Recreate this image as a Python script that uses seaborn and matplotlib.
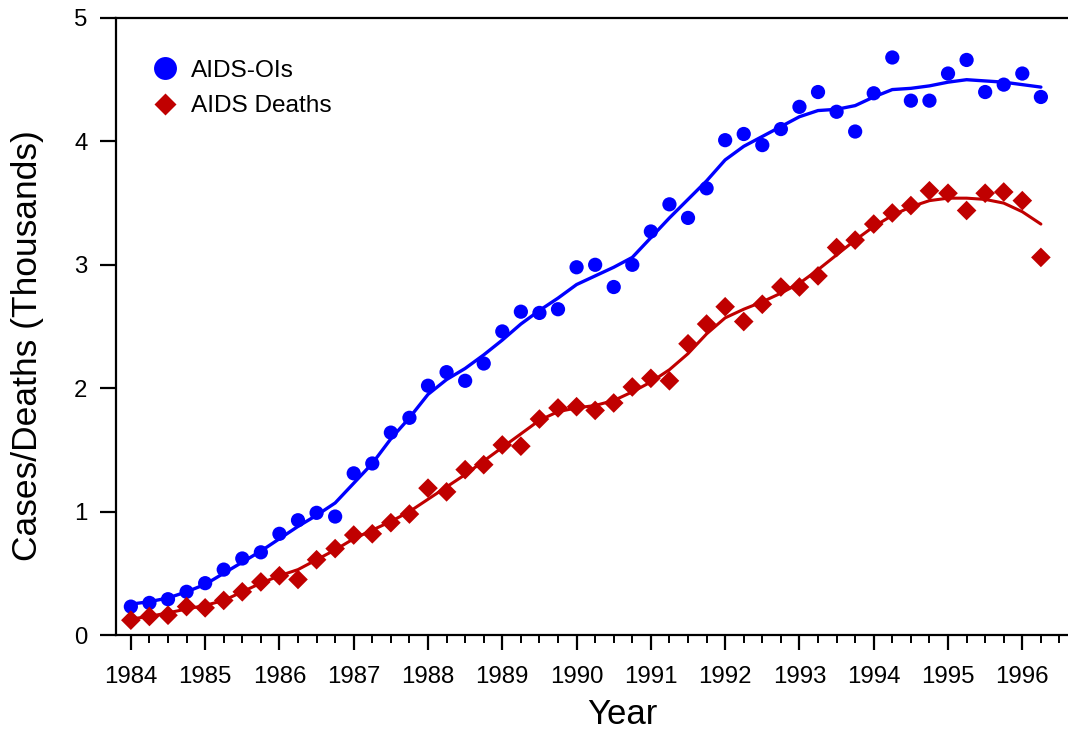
import numpy as np
import pandas as pd
import matplotlib
matplotlib.use("Agg")
import matplotlib.pyplot as plt
from matplotlib.lines import Line2D
import seaborn as sns

# ---- data (quarterly 1984.00 .. 1996.25) ----
years = [1984 + q * 0.25 for q in range(50)]

aids_ois = [0.23, 0.26, 0.29, 0.35, 0.42, 0.53, 0.62, 0.67, 0.82, 0.93,
            0.99, 0.96, 1.31, 1.39, 1.64, 1.76, 2.02, 2.13, 2.06, 2.20,
            2.46, 2.62, 2.61, 2.64, 2.98, 3.00, 2.82, 3.00, 3.27, 3.49,
            3.38, 3.62, 4.01, 4.06, 3.97, 4.10, 4.28, 4.40, 4.24, 4.08,
            4.39, 4.68, 4.33, 4.33, 4.55, 4.66, 4.40, 4.46, 4.55, 4.36]

aids_deaths = [0.12, 0.15, 0.16, 0.23, 0.22, 0.28, 0.35, 0.43, 0.48, 0.45,
               0.61, 0.70, 0.81, 0.82, 0.91, 0.98, 1.19, 1.16, 1.34, 1.38,
               1.54, 1.53, 1.75, 1.84, 1.85, 1.82, 1.88, 2.01, 2.08, 2.06,
               2.36, 2.52, 2.66, 2.54, 2.68, 2.82, 2.82, 2.91, 3.14, 3.20,
               3.33, 3.42, 3.48, 3.60, 3.58, 3.44, 3.58, 3.59, 3.52, 3.06]

# smooth fitted curves
ois_fit = [0.25, 0.27, 0.30, 0.35, 0.41, 0.50, 0.59, 0.68, 0.78, 0.88,
           0.97, 1.07, 1.23, 1.39, 1.59, 1.76, 1.95, 2.07, 2.16, 2.27,
           2.39, 2.52, 2.63, 2.73, 2.84, 2.91, 2.98, 3.06, 3.22, 3.38,
           3.53, 3.68, 3.85, 3.96, 4.04, 4.12, 4.20, 4.25, 4.26, 4.29,
           4.36, 4.42, 4.43, 4.45, 4.48, 4.50, 4.49, 4.48, 4.46, 4.44]

deaths_fit = [0.13, 0.15, 0.18, 0.21, 0.24, 0.28, 0.35, 0.42, 0.48, 0.53,
              0.61, 0.69, 0.78, 0.85, 0.92, 1.00, 1.10, 1.20, 1.30, 1.41,
              1.52, 1.63, 1.74, 1.81, 1.84, 1.86, 1.90, 1.97, 2.05, 2.15,
              2.28, 2.44, 2.57, 2.64, 2.70, 2.77, 2.85, 2.96, 3.08, 3.20,
              3.31, 3.40, 3.47, 3.52, 3.54, 3.54, 3.53, 3.50, 3.43, 3.33]

x_ticks = list(range(1984, 1997))
y_ticks = [0, 1, 2, 3, 4, 5]

BLUE = "#0000FF"
RED = "#C00000"

df = pd.DataFrame({"Year": years, "ois": aids_ois, "deaths": aids_deaths,
                   "ois_fit": ois_fit, "deaths_fit": deaths_fit})

sns.set_style("ticks")
plt.rcParams["font.family"] = ["Liberation Sans", "DejaVu Sans"]
plt.rcParams["text.color"] = "black"
plt.rcParams["axes.labelcolor"] = "black"
plt.rcParams["xtick.color"] = "black"
plt.rcParams["ytick.color"] = "black"

fig = plt.figure(figsize=(10.68, 7.31), dpi=100)
ax = fig.add_axes([116 / 1068, 1 - 635 / 731, (1068 - 116) / 1068, (635 - 18) / 731])

sns.lineplot(data=df, x="Year", y="ois_fit", ax=ax, color=BLUE, lw=2.4, legend=False)
sns.lineplot(data=df, x="Year", y="deaths_fit", ax=ax, color=RED, lw=2.2, legend=False)
sns.scatterplot(data=df, x="Year", y="ois", ax=ax, color=BLUE, marker="o",
                s=105, edgecolor="none", linewidth=0, zorder=3)
sns.scatterplot(data=df, x="Year", y="deaths", ax=ax, color=RED, marker="D",
                s=100, edgecolor="none", linewidth=0, zorder=3)

ax.set_xticks(x_ticks)
ax.set_xticks([y + q * 0.25 for y in x_ticks for q in (1, 2, 3)], minor=True)
ax.set_yticks(y_ticks)
ax.set_xticklabels([str(v) for v in x_ticks])
ax.set_yticklabels([str(v) for v in y_ticks])
ax.set_xlim(1983.8, 1996.615)
ax.set_ylim(0, 5)

for side in ["left", "bottom", "top"]:
    ax.spines[side].set_visible(True)
    ax.spines[side].set_linewidth(1.6)
    ax.spines[side].set_color("black")
ax.spines["right"].set_visible(False)

ax.tick_params(axis="x", which="major", direction="out", length=11, width=1.6,
               labelsize=17.3, pad=11, top=False, colors="black")
ax.tick_params(axis="x", which="minor", direction="out", length=5.5, width=1.4,
               top=False, colors="black")
ax.tick_params(axis="y", which="major", direction="out", length=11.5, width=1.6,
               labelsize=17.3, pad=9, right=False, colors="black")

ax.set_xlabel("Year", fontsize=25, va="bottom", color="black")
ax.xaxis.set_label_coords((622 - 116) / 952, (635 - 731) / 617)
ax.set_ylabel("Cases/Deaths (Thousands)", fontsize=25.5, va="center", color="black")
ax.yaxis.set_label_coords((28 - 116) / 952, (635 - 346) / 617)

handles = [Line2D([], [], ls="none", marker="o", ms=16.5, color=BLUE, mec="none"),
           Line2D([], [], ls="none", marker="D", ms=11.5, color=RED, mec="none")]
leg = ax.legend(handles, ["AIDS-OIs", "AIDS Deaths"], loc="upper left",
                bbox_to_anchor=(0.013, 0.968), frameon=False, fontsize=17.6,
                handletextpad=0.45, labelspacing=0.55, handlelength=1.2,
                labelcolor="black")

fig.savefig("out.png", dpi=100)
